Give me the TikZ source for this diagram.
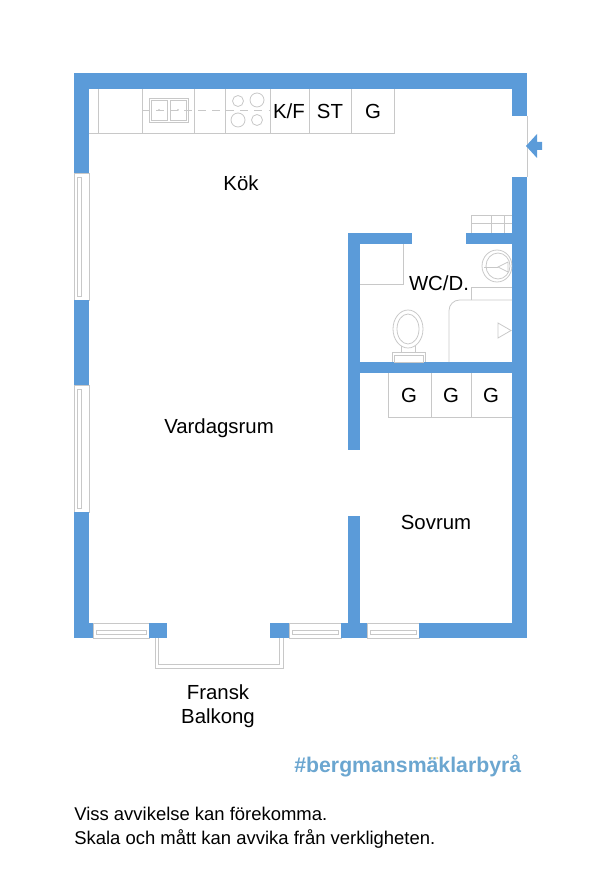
\documentclass[tikz,border=0pt]{standalone}
\usepackage{fontspec}
\setmainfont{Liberation Sans}
\usepackage{xcolor}
\usetikzlibrary{positioning}
\definecolor{wallblue}{HTML}{5B9BD9}
\definecolor{brandblue}{HTML}{6BA6D0}
\definecolor{brandyellow}{HTML}{EBD98A}
\definecolor{fitgray}{HTML}{C8C8C8}
\tikzset{wall/.style={fill=wallblue,draw=none},
  fit/.style={draw=fitgray,line width=0.45pt},
  glass/.style={draw=fitgray,line width=0.55pt},
  room/.style={font=\fontsize{11.6}{13}\selectfont,inner sep=0pt},
  note/.style={font=\fontsize{10.5}{13}\selectfont,inner sep=0pt,anchor=west}}

\begin{document}
\begin{tikzpicture}[x=0.02cm,y=-0.02cm]
    \useasboundingbox (0,0) rectangle (600,878);

    % windows and balcony
    \foreach \ya/\yb in {173/300,385/512} {
        \draw [glass] (74,\ya) rectangle (89,\yb);
        \draw [glass] (77.5,\ya+4) rectangle (81.7,\yb-4);
    }
    \foreach \xa/\xb in {93/149,289/341,367/419} {
        \draw [glass] (\xa,623) rectangle (\xb,638);
        \draw [glass] (\xa+3,630.7) rectangle (\xb-3,634.7);
    }
    \draw [glass] (155,638) -- (155,668) -- (283,668) -- (283,638);
    \draw [glass] (158,638) -- (158,664) -- (279,664) -- (279,638);
    \draw [glass] (527,116) -- (527,177);

    % walls
    \fill [wall] (74,73) rectangle (527,89);
    \fill [wall] (74,73) rectangle (89,173);
    \fill [wall] (74,300) rectangle (89,385);
    \fill [wall] (74,512) rectangle (89,638);
    \fill [wall] (512,73) rectangle (527,116);
    \fill [wall] (512,177) rectangle (527,638);
    \fill [wall] (74,623) rectangle (93,638);
    \fill [wall] (149,623) rectangle (167,638);
    \fill [wall] (270,623) rectangle (289,638);
    \fill [wall] (341,623) rectangle (367,638);
    \fill [wall] (419,623) rectangle (527,638);
    \fill [wall] (348,233) rectangle (360,450);
    \fill [wall] (348,516) rectangle (360,625);
    \fill [wall] (348,233) rectangle (412,244);
    \fill [wall] (466,233) rectangle (512,244);
    \fill [wall] (348,362) rectangle (512,373);
    \fill [wall] (526,146) -- (537,134) -- (537,142) -- (542,142) -- (542,150) -- (537,150) -- (537,158) -- cycle;

    % kitchen
    \draw [fit] (89,133) -- (394,133) -- (394,89);
    \foreach \x in {98,142,194,225,270,309,351} {
        \draw [fit] (\x,89) -- (\x,133);
    }
    \draw [fit] (149,98) rectangle (188,122);
    \draw [fit] (151,100) rectangle (167,120);
    \draw [fit] (170,100) rectangle (186,120);
    \draw [fit,dash pattern=on 4.5pt off 3.5pt] (142,110) -- (270,110);
    \fill [fitgray] (159,110) circle (1);
    \fill [fitgray] (178,110) circle (1);
    \draw [fit,fill=white] (238,101) circle (5.5);
    \draw [fit,fill=white] (257,100) circle (7);
    \draw [fit,fill=white] (238,120) circle (7);
    \draw [fit,fill=white] (257,120) circle (5.5);

    % bath
    \draw [fit] (403,244) -- (403,284) -- (360,284);
    \draw [fit] (471,300) -- (471,287) -- (512,287);
    \draw [fit,rounded corners=6pt] (449,362) -- (449,300) -- (512,300);
    \draw [fit] (498,323) -- (511,330.5) -- (498,338) -- cycle;
    \begin{scope}
        \clip (470,245) rectangle (512,285);
        \draw [fit] (497,266) ellipse (15 and 16);
        \draw [fit] (498,266) ellipse (12 and 13);
        \draw [fit] (498,267) -- (508,262) -- (508,272) -- cycle;
        \draw [fit] (484,267) -- (498,267);
    \end{scope}
    \draw [fit] (408,329) ellipse (15 and 19);
    \draw [fit] (408,329) ellipse (11 and 15);
    \draw [fit] (401,346) -- (401,352);
    \draw [fit] (415,346) -- (415,352);
    \draw [fit] (392,362) -- (392,352) -- (425,352) -- (425,362);
    \draw [fit] (394,355) rectangle (423,362);
    \foreach \x in {471,491,504} {
        \draw [fit] (\x,215.5) -- (\x,233);
    }
    \draw [fit] (471,215.5) -- (512,215.5);
    \draw [fit] (471,223) -- (512,223);

    % closet
    \draw [fit] (388,373) -- (388,417) -- (512,417);
    \draw [fit] (431,373) -- (431,417);
    \draw [fit] (471,373) -- (471,417);

    % labels
    \node [room] (kf) at (289,111) {K/F};
    \node [room] (st) at (330,111) {ST};
    \node [room] (gkok) at (373,111) {G};
    \node [room] (kok) at (241,183) {Kök};
    \node [room] (wc) at (439,283) {WC/D.};
    \node [room] (ga) at (409,395) {G};
    \node [room] (gb) at (451,395) {G};
    \node [room] (gc) at (491,395) {G};
    \node [room] (vardag) at (219,428) {Vardagsrum};
    \node [room] (sovrum) at (436,522) {Sovrum};
    \node [room] (fransk) at (218,692) {Fransk};
    \node [room] (balkong) at (218,718) {Balkong};
    \node [inner sep=0pt,anchor=west,text=brandblue,font=\fontsize{12.1}{15}\selectfont\bfseries] (brand) at (294,766) {\#bergmansmäklarbyrå};
    \fill [brandyellow] (431.7,758) circle (1.2);
    \fill [brandyellow] (437.3,758) circle (1.2);
    \node [note] (viss) at (74,814) {Viss avvikelse kan förekomma.};
    \node [note] (skala) at (74,839) {Skala och mått kan avvika från verkligheten.};
\end{tikzpicture}
\end{document}
